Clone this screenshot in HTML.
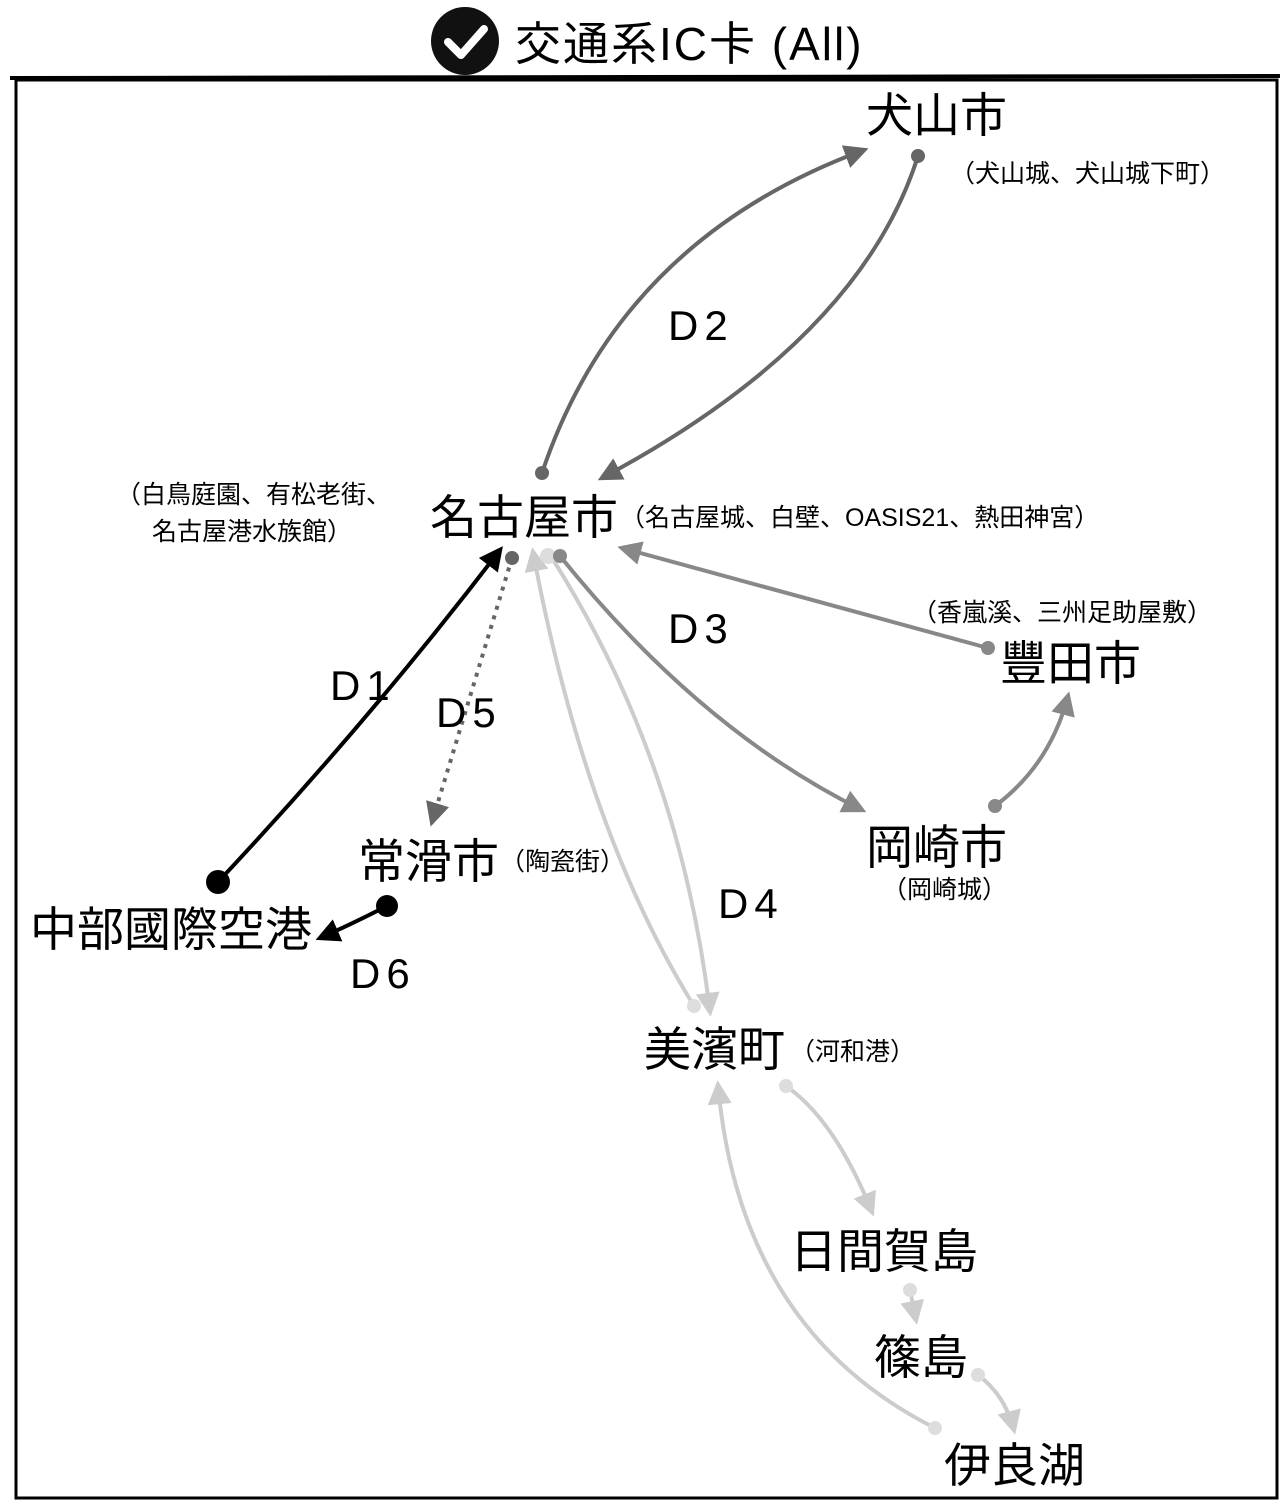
<!DOCTYPE html>
<html><head><meta charset="utf-8"><style>
body{margin:0;background:#fff}
svg text{font-family:"Liberation Sans","Noto Sans CJK JP",sans-serif;fill:#000}
</style></head><body>
<svg width="1280" height="1500" viewBox="0 0 1280 1500" xmlns="http://www.w3.org/2000/svg">
<defs>
<marker id="ak" viewBox="0 0 10 10" refX="8" refY="5" markerWidth="6" markerHeight="6" orient="auto"><path d="M0,0L10,5L0,10z" fill="#000"/></marker>
<marker id="a6" viewBox="0 0 10 10" refX="8" refY="5" markerWidth="6" markerHeight="6" orient="auto"><path d="M0,0L10,5L0,10z" fill="#666"/></marker>
<marker id="a8" viewBox="0 0 10 10" refX="8" refY="5" markerWidth="6" markerHeight="6" orient="auto"><path d="M0,0L10,5L0,10z" fill="#888"/></marker>
<marker id="ac" viewBox="0 0 10 10" refX="8" refY="5" markerWidth="6" markerHeight="6" orient="auto"><path d="M0,0L10,5L0,10z" fill="#ccc"/></marker>
</defs>
<rect x="16" y="80" width="1261" height="1418" fill="none" stroke="#000" stroke-width="3"/>
<line x1="10" y1="78" x2="1280" y2="76" stroke="#000" stroke-width="4"/>
<circle cx="465" cy="41" r="34" fill="#111"/>
<path d="M448,42 L461,55 L484,29" fill="none" stroke="#fff" stroke-width="8" stroke-linecap="round" stroke-linejoin="round"/>
<text x="515" y="60" font-size="46" letter-spacing="2">交通系IC卡 (All)</text>
<g fill="none" stroke-width="4">
<path d="M542,473 Q620,240 864,150" stroke="#666" marker-end="url(#a6)"/>
<path d="M918,156 Q860,340 602,478" stroke="#666" marker-end="url(#a6)"/>
<path d="M218,882 Q370,720 500,550" stroke="#000" marker-end="url(#ak)"/>
<path d="M512,558 L432,822" stroke="#666" stroke-dasharray="4,6" marker-end="url(#a6)"/>
<path d="M560,556 Q700,730 862,810" stroke="#888" marker-end="url(#a8)"/>
<path d="M988,648 L622,548" stroke="#888" marker-end="url(#a8)"/>
<path d="M995,806 Q1050,765 1068,696" stroke="#888" marker-end="url(#a8)"/>
<path d="M552,558 Q680,760 710,1012" stroke="#ccc" marker-end="url(#ac)"/>
<path d="M694,1006 Q585,830 533,552" stroke="#ccc" marker-end="url(#ac)"/>
<path d="M786,1086 Q835,1120 872,1212" stroke="#ccc" marker-end="url(#ac)"/>
<path d="M910,1290 L916,1320" stroke="#ccc" marker-end="url(#ac)"/>
<path d="M978,1375 Q1005,1395 1014,1430" stroke="#ccc" marker-end="url(#ac)"/>
<path d="M935,1428 Q740,1330 718,1085" stroke="#ccc" marker-end="url(#ac)"/>
<path d="M387,906 Q350,925 320,938" stroke="#000" marker-end="url(#ak)"/>
</g>
<g>
<circle cx="542" cy="473" r="7" fill="#666"/><circle cx="918" cy="156" r="7" fill="#666"/>
<circle cx="218" cy="882" r="12" fill="#000"/><circle cx="512" cy="558" r="7" fill="#666"/>
<circle cx="548" cy="556" r="8" fill="#ddd"/><circle cx="560" cy="556" r="7" fill="#888"/>
<circle cx="988" cy="648" r="7" fill="#888"/><circle cx="995" cy="806" r="7" fill="#888"/>
<circle cx="694" cy="1006" r="7" fill="#ddd"/><circle cx="786" cy="1086" r="7" fill="#ddd"/>
<circle cx="910" cy="1290" r="7" fill="#ddd"/><circle cx="978" cy="1375" r="7" fill="#ddd"/>
<circle cx="935" cy="1428" r="7" fill="#ddd"/><circle cx="387" cy="906" r="11" fill="#000"/>
</g>
<g font-size="42" letter-spacing="6">
<text x="668" y="340">D2</text><text x="668" y="643">D3</text><text x="330" y="700">D1</text>
<text x="436" y="727">D5</text><text x="718" y="918">D4</text><text x="350" y="988">D6</text>
</g>
<text x="866" y="132" font-size="47">犬山市</text>
<text x="950" y="182" font-size="25">（犬山城、犬山城下町）</text>
<text x="430" y="534" font-size="47">名古屋市</text>
<text x="620" y="526" font-size="25">（名古屋城、白壁、OASIS21、熱田神宮）</text>
<text x="116" y="503" font-size="25">（白鳥庭園、有松老街、</text>
<text x="152" y="540" font-size="25">名古屋港水族館）</text>
<text x="912" y="621" font-size="25">（香嵐溪、三州足助屋敷）</text>
<text x="1000" y="680" font-size="47">豐田市</text>
<text x="866" y="864" font-size="47">岡崎市</text>
<text x="882" y="898" font-size="25">（岡崎城）</text>
<text x="358" y="878" font-size="47">常滑市</text>
<text x="500" y="870" font-size="25">（陶瓷街）</text>
<text x="30" y="946" font-size="47">中部國際空港</text>
<text x="644" y="1066" font-size="47">美濱町</text>
<text x="790" y="1060" font-size="25">（河和港）</text>
<text x="790" y="1268" font-size="47">日間賀島</text>
<text x="874" y="1374" font-size="47">篠島</text>
<text x="944" y="1482" font-size="47">伊良湖</text>
</svg>
</body></html>
